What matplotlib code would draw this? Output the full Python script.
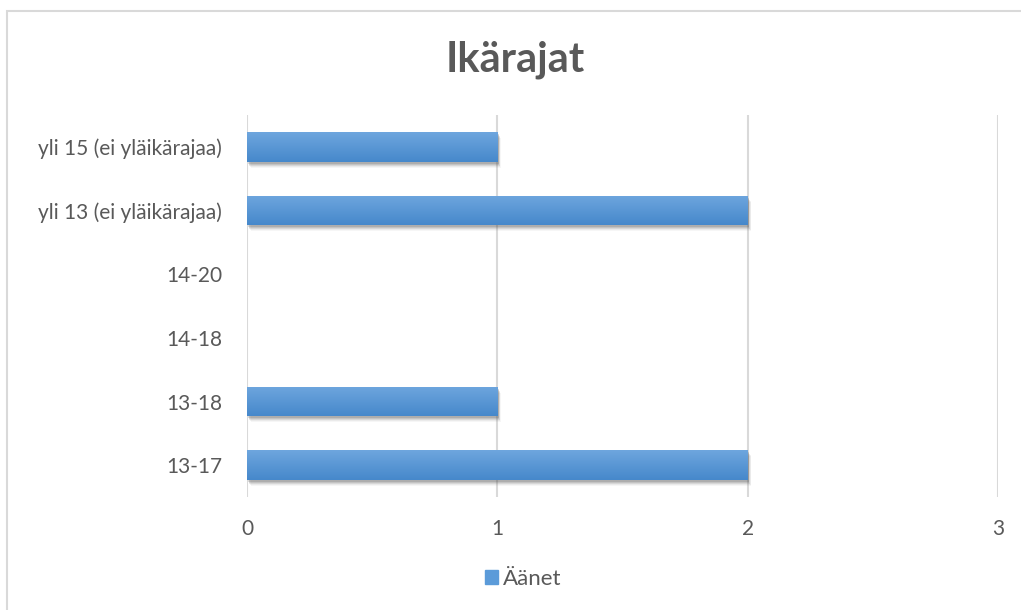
import matplotlib.pyplot as plt
import matplotlib
import numpy as np
from matplotlib.patches import Rectangle
import matplotlib.transforms as mtransforms

matplotlib.rcParams['font.family'] = ['Lato', 'DejaVu Sans']

categories = ['13-17', '13-18', '14-18', '14-20', 'yli 13 (ei yläikärajaa)', 'yli 15 (ei yläikärajaa)']
votes = [2, 1, 0, 0, 2, 1]
x_ticks = [0, 1, 2, 3]
series_name = 'Äänet'
title = 'Ikärajat'

text_color = '#595959'
grid_color = '#d9d9d9'
bar_top = '#6ea6de'
bar_bottom = '#4688cb'

fig = plt.figure(figsize=(10.21, 6.10), dpi=100)
ax = fig.add_axes([247 / 1021, 1 - 497 / 610, 751 / 1021, 382 / 610])

# outer chart border
fig.patches.append(Rectangle((7 / 1021, -0.1), 1.1, 1 - 11 / 610 + 0.1, transform=fig.transFigure,
                             fill=False, edgecolor=grid_color, linewidth=1.5))

ypos = np.arange(len(categories))
bar_h = 0.47

# soft shadow (a few stacked offset copies)
for off, a in [(2, 0.2), (3, 0.16), (4, 0.12), (5, 0.08), (6, 0.05)]:
    shadow = mtransforms.offset_copy(ax.transData, fig=fig, x=off * 0.6, y=-off, units='dots')
    ax.barh(ypos, votes, height=bar_h, color='#5a5a5a', alpha=a, transform=shadow,
            zorder=2, linewidth=0)
bars = ax.barh(ypos, votes, height=bar_h, color=bar_bottom, zorder=3, linewidth=0, label=series_name)

# vertical gradient fill, lighter at the top
grad = np.linspace(0, 1, 100).reshape(-1, 1)
cmap = matplotlib.colors.LinearSegmentedColormap.from_list('g', [bar_top, bar_bottom])
for b in bars:
    if b.get_width() == 0:
        continue
    x0, y0 = b.get_x(), b.get_y()
    im = ax.imshow(grad, cmap=cmap, aspect='auto', origin='upper',
                   extent=[x0, x0 + b.get_width(), y0, y0 + b.get_height()], zorder=4)
    im.set_clip_path(b)

ax.set_xlim(0, 3)
ax.set_ylim(-0.5, len(categories) - 0.5)
ax.set_xticks(x_ticks)
ax.set_yticks(ypos)
ax.set_yticklabels(categories)
ax.tick_params(length=0, labelsize=15, labelcolor=text_color)
ax.tick_params(axis='x', pad=16)
ax.tick_params(axis='y', pad=18)
ax.grid(axis='x', color=grid_color, linewidth=1.5, zorder=0)
ax.set_axisbelow(True)
for s in ax.spines.values():
    s.set_visible(False)

fig.text(515 / 1021, 1 - 60 / 610, title, ha='center', va='center', fontsize=30,
         fontweight='bold', color=text_color)

leg_patch = Rectangle((0, 0), 1, 1, color='#5b9bd9')
fig.legend(handles=[leg_patch], labels=[series_name],
           loc='center', bbox_to_anchor=(523 / 1021, 1 - 579 / 610), frameon=False, fontsize=16,
           labelcolor=text_color, handlelength=0.6, handleheight=0.6, handletextpad=0.2)

fig.savefig('out.png', dpi=100)
